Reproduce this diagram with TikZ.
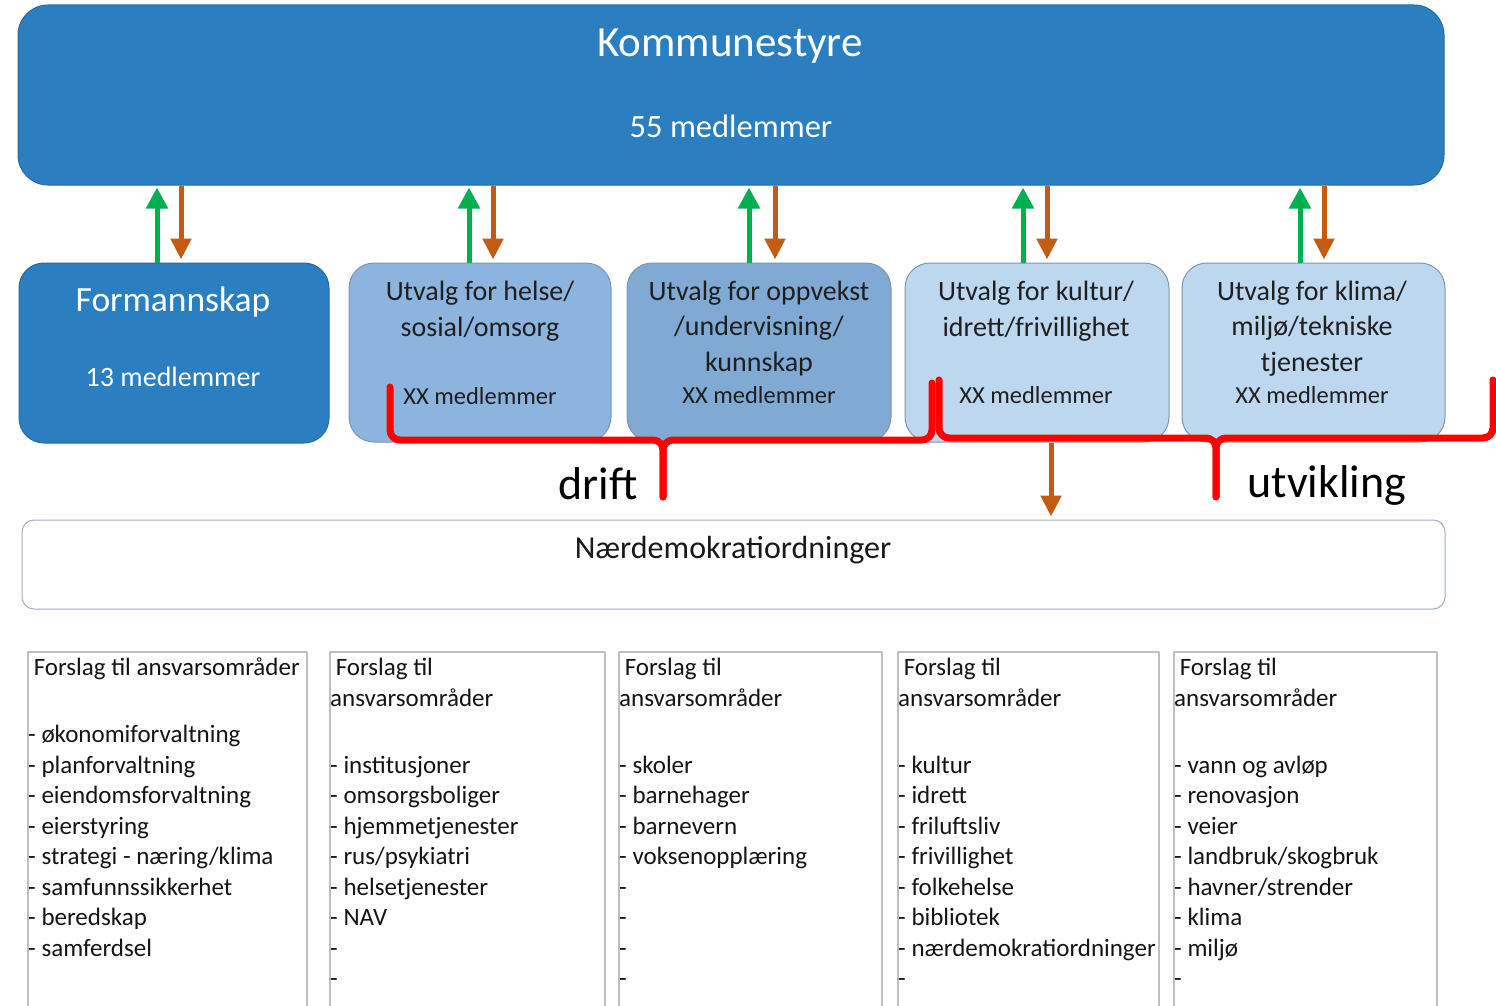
\documentclass[tikz,border=0pt]{standalone}
\usepackage{fontspec}
\setmainfont{Carlito}
\usetikzlibrary{arrows.meta,positioning}

\definecolor{boardblue}{HTML}{2B7FC1}
\definecolor{boardedge}{HTML}{2769A2}
\definecolor{helsefill}{HTML}{8DB4DE}
\definecolor{oppvekstfill}{HTML}{80A9D4}
\definecolor{lightfill}{HTML}{BDD7EE}
\definecolor{committeeedge}{HTML}{7C96B3}
\definecolor{upgreen}{HTML}{00B050}
\definecolor{downbrown}{HTML}{C55A11}
\definecolor{bracered}{HTML}{FF0000}
\definecolor{listedge}{HTML}{BFBFBF}
\definecolor{localedge}{HTML}{9EAFC1}

\begin{document}
\begin{tikzpicture}[
  x=1pt, y=-1pt,
  line join=round,
  board/.style={draw=boardedge, line width=1pt, fill=boardblue, inner sep=0pt},
  committee/.style={draw=committeeedge, line width=1pt, rounded corners=25pt,
                    inner sep=0pt, minimum height=179pt},
  title/.style={align=center, font=\fontsize{28}{35.5}\selectfont, text=black!88},
  members/.style={font=\fontsize{24.5}{29}\selectfont, text=black!88},
  uparrow/.style={draw=upgreen, line width=5pt, shorten >=2pt,
                  -{Triangle[width=21pt,length=21pt]}},
  downarrow/.style={draw=downbrown, line width=5pt, shorten >=3pt,
                    -{Triangle[width=20pt,length=21pt]}},
  brace/.style={draw=bracered, line width=7pt, line cap=round, rounded corners=10pt},
  listbox/.style={draw=listedge, line width=1.5pt, minimum height=400pt,
                  inner sep=0pt, anchor=north west},
  listtext/.style={align=left, inner sep=0pt, text=black!92,
                   font=\fontsize{25}{30.5}\selectfont},
]
\useasboundingbox (0,0) rectangle (1496,1006);

% ── the council and the executive board ───────────────────────────────────
\node[board, rounded corners=30pt, minimum width=1426pt, minimum height=180pt]
  (kommunestyre) at (731,95) {};
\node[text=white, font=\fontsize{43}{50}\selectfont] (kommunestyre-name) at (730,46) {Kommunestyre};
\node[text=white, font=\fontsize{32.5}{38}\selectfont] (kommunestyre-size) at (731,126) {55 medlemmer};

\node[board, rounded corners=25pt, minimum width=310pt, minimum height=180pt]
  (formannskap) at (174,353) {};
\node[text=white, font=\fontsize{35.5}{40}\selectfont] (formannskap-name) at (173,302) {Formannskap};
\node[text=white, font=\fontsize{28}{32}\selectfont] (formannskap-size) at (173,377) {13 medlemmer};

% ── the four committees ───────────────────────────────────────────────────
\node[committee, fill=helsefill, minimum width=262pt] (helse) at (480,352.5) {};
\node[committee, fill=oppvekstfill, minimum width=264pt] (oppvekst) at (759,352.5) {};
\node[committee, fill=lightfill, minimum width=264pt] (kultur) at (1037,352.5) {};
\node[committee, fill=lightfill, minimum width=263pt] (klima) at (1313.5,352.5) {};

\node[title] (helse-name) at (480,311) {Utvalg for helse/\\sosial/omsorg};
\node[title] (oppvekst-name) at (759,328.5) {Utvalg for oppvekst\\/undervisning/\\kunnskap};
\node[title] (kultur-name) at (1036,311) {Utvalg for kultur/\\idrett/frivillighet};
\node[title] (klima-name) at (1312,328.5) {Utvalg for klima/\\miljø/tekniske\\tjenester};

\node[members] (helse-size) at (480,396) {XX medlemmer};
\node[members] (oppvekst-size) at (759,395) {XX medlemmer};
\node[members] (kultur-size) at (1036,395) {XX medlemmer};
\node[members] (klima-size) at (1312,395) {XX medlemmer};

% up to the council in green, back down in brown
\foreach \n/\g/\b in {formannskap/-17/7, helse/-11/13, oppvekst/-10/16,
                      kultur/-14/10, klima/-13.5/10.5} {
  \draw[uparrow] ([xshift=\g pt]\n.north) -- ([xshift=\g pt]\n.north |- kommunestyre.south);
  \draw[downarrow] ([xshift=\b pt]\n.north |- kommunestyre.south) -- ([xshift=\b pt]\n.north);
}

% ── local democracy ───────────────────────────────────────────────────────
\node[draw=localedge, line width=1pt, fill=white, rounded corners=12pt,
      minimum width=1423pt, minimum height=89pt, inner sep=0pt]
  (naerdemokrati) at (733.5,564.5) {};
\node[font=\fontsize{32}{38}\selectfont, text=black!90] (naerdemokrati-name) at (733,550) {Nærdemokratiordninger};

\draw[downarrow] ([xshift=14pt]kultur.south) -- ([xshift=14pt]kultur.south |- naerdemokrati.north);

% the two red braces
\draw[brace] (390,387) |- (663,440) -- (663,497);
\draw[brace] (663,497) -- (663,440) -| (932,383);
\draw[brace] (939,380) |- (1216,438) -- (1216,497);
\draw[brace] (1216,497) -- (1216,438) -| (1493,380);

\node[font=\fontsize{46}{50}\selectfont] (drift) at (598,484) {drift};
\node[font=\fontsize{46}{50}\selectfont] (utvikling) at (1327,485) {utvikling};

% ── proposed areas of responsibility, open at the foot of the page ────────
\node[listbox, minimum width=279pt] (areas-formannskap) at (27,651) {};
\node[listbox, minimum width=275pt] (areas-helse) at (329,651) {};
\node[listbox, minimum width=263pt] (areas-oppvekst) at (618,651) {};
\node[listbox, minimum width=261pt] (areas-kultur) at (897,651) {};
\node[listbox, minimum width=263pt] (areas-klima) at (1173,651) {};

\node[listtext, below right=7pt and 1pt of areas-formannskap.north west] (areas-formannskap-text) {%
  \hspace*{5.6pt}Forslag til ansvarsområder\\[36.5pt]
  - økonomiforvaltning\\
  - planforvaltning\\
  - eiendomsforvaltning\\
  - eierstyring\\
  - strategi - næring/klima\\
  - samfunnssikkerhet\\
  - beredskap\\
  - samferdsel};
\node[listtext, below right=7pt and 1pt of areas-helse.north west] (areas-helse-text) {%
  \hspace*{5.6pt}Forslag til\\
  ansvarsområder\\[36.5pt]
  - institusjoner\\
  - omsorgsboliger\\
  - hjemmetjenester\\
  - rus/psykiatri\\
  - helsetjenester\\
  - NAV\\
  -\\
  -};
\node[listtext, below right=7pt and 1pt of areas-oppvekst.north west] (areas-oppvekst-text) {%
  \hspace*{5.6pt}Forslag til\\
  ansvarsområder\\[36.5pt]
  - skoler\\
  - barnehager\\
  - barnevern\\
  - voksenopplæring\\
  -\\
  -\\
  -\\
  -};
\node[listtext, below right=7pt and 1pt of areas-kultur.north west] (areas-kultur-text) {%
  \hspace*{5.6pt}Forslag til\\
  ansvarsområder\\[36.5pt]
  - kultur\\
  - idrett\\
  - friluftsliv\\
  - frivillighet\\
  - folkehelse\\
  - bibliotek\\
  - nærdemokratiordninger\\
  -};
\node[listtext, below right=7pt and 1pt of areas-klima.north west] (areas-klima-text) {%
  \hspace*{5.6pt}Forslag til\\
  ansvarsområder\\[36.5pt]
  - vann og avløp\\
  - renovasjon\\
  - veier\\
  - landbruk/skogbruk\\
  - havner/strender\\
  - klima\\
  - miljø\\
  -};

\end{tikzpicture}
\end{document}
